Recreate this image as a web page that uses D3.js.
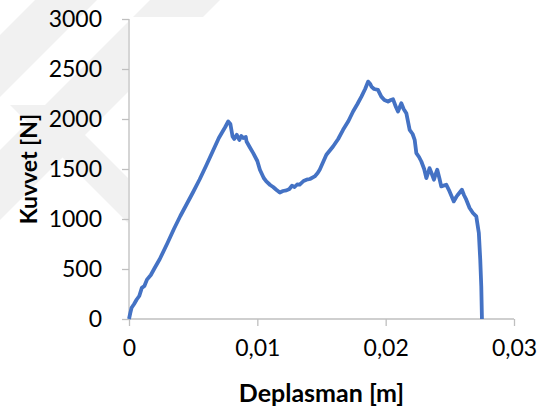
<!DOCTYPE html>
<html>
<head>
<meta charset="utf-8">
<script src="https://cdn.jsdelivr.net/npm/d3@7"></script>
<style>
  body { margin: 0; background: white; }
  svg { display: block; font-family: Lato, "Open Sans", sans-serif; }
</style>
</head>
<body>
<svg id="chart" width="542" height="414"></svg>
<script>
// displacement [m]
const deplasman = [0, 0.0001, 0.0002, 0.0004, 0.0006, 0.0008, 0.001, 0.0012, 0.0014, 0.0017, 0.002, 0.0024,
  0.003, 0.0035, 0.004, 0.0045, 0.005, 0.0055, 0.006, 0.0065, 0.007, 0.0075, 0.00773, 0.0079, 0.00807,
  0.0082, 0.0084, 0.0086, 0.00875, 0.0089, 0.0091, 0.00916, 0.0094, 0.00968, 0.01, 0.0102, 0.0105, 0.0107,
  0.011, 0.01123, 0.0115, 0.01175, 0.012, 0.01227, 0.0125, 0.0127, 0.0129, 0.0131, 0.0133, 0.0136, 0.01383,
  0.0141, 0.01447, 0.0147, 0.01486, 0.01538, 0.0159, 0.0163, 0.01668, 0.0171, 0.01746, 0.0178, 0.01811,
  0.0184, 0.01863, 0.0188, 0.01889, 0.0191, 0.0194, 0.01966, 0.0199, 0.02018, 0.0204, 0.02057, 0.0208,
  0.02096, 0.0211, 0.02122, 0.0214, 0.02161, 0.02187, 0.0221, 0.02226, 0.02239, 0.0226, 0.02278, 0.023,
  0.02317, 0.0233, 0.02342, 0.0236, 0.02376, 0.0239, 0.02402, 0.0242, 0.02433, 0.02472, 0.02498, 0.02531,
  0.0255, 0.02563, 0.02594, 0.0261, 0.02628, 0.02654, 0.0268, 0.02706, 0.02726, 0.02737, 0.02745, 0.0275, 0.0275];
// force [N]
const kuvvet = [0, 60, 112, 150, 195, 230, 311, 330, 394, 440, 510, 600,
  760, 900, 1030, 1150, 1270, 1395, 1530, 1670, 1810, 1920, 1975, 1950, 1825,
  1800, 1842, 1790, 1830, 1810, 1820, 1775, 1720, 1659, 1580, 1493, 1410, 1376,
  1340, 1320, 1290, 1265, 1280, 1286, 1300, 1333, 1320, 1345, 1343, 1380, 1393,
  1400, 1426, 1460, 1493, 1642, 1725, 1800, 1892, 1980, 2075, 2150, 2224,
  2300, 2374, 2350, 2324, 2300, 2291, 2224, 2190, 2174, 2190, 2198, 2120,
  2075, 2120, 2158, 2100, 2058, 1892, 1850, 1792, 1659, 1620, 1575, 1500,
  1409, 1460, 1509, 1450, 1393, 1450, 1493, 1400, 1326, 1343, 1276, 1176,
  1220, 1243, 1293, 1240, 1193, 1110, 1060, 1026, 860, 594, 327, 12, 0];

const xTicks = [0, 0.01, 0.02, 0.03];
const yTicks = [0, 500, 1000, 1500, 2000, 2500, 3000];

const svg = d3.select("#chart");

// faint background watermark
const wm = svg.append("g").attr("fill", "#f1f1f1");
[
  [[35, 0], [97, 0], [0, 97], [0, 35]],
  [[150, 0], [220, 0], [0, 220], [0, 150]],
  [[10, 105], [55, 105], [140, 190], [140, 235]]
].forEach(p => wm.append("polygon").attr("points", p.map(d => d.join(",")).join(" ")));

svg.append("rect")
  .attr("x", 128).attr("y", 17)
  .attr("width", 414).attr("height", 397)
  .attr("fill", "white");

const margin = { top: 19, right: 28, bottom: 95, left: 129 };
const width = 542 - margin.left - margin.right;
const height = 414 - margin.top - margin.bottom;

const chartArea = svg.append("g")
  .attr("transform", `translate(${margin.left},${margin.top})`);

const x = d3.scaleLinear().domain([0, 0.03]).range([0, width]);
const y = d3.scaleLinear().domain([0, 3000]).range([height, 0]);

const fmtX = d => d === 0 ? "0" : String(d).replace(".", ",");

const xAxis = chartArea.append("g")
  .attr("transform", `translate(0,${height})`)
  .call(d3.axisBottom(x).tickValues(xTicks).tickFormat(fmtX).tickSize(7).tickSizeOuter(0).tickPadding(14));

const yAxis = chartArea.append("g")
  .call(d3.axisLeft(y).tickValues(yTicks).tickFormat(d3.format("d")).tickSize(7).tickSizeOuter(0).tickPadding(20));

[xAxis, yAxis].forEach(a => {
  a.selectAll("path, line").attr("stroke", "#bfbfbf").attr("stroke-width", 1.3);
  a.selectAll("text").attr("font-size", 23).attr("fill", "#000").attr("font-family", "Lato, sans-serif");
});
xAxis.select(".domain").attr("d", `M0,0H${width}`);
yAxis.select(".domain").attr("d", `M0,${height}V0`);

const line = d3.line()
  .x((d, i) => x(deplasman[i]))
  .y(d => y(d));

chartArea.append("path")
  .datum(kuvvet)
  .attr("fill", "none")
  .attr("stroke", "#4472C4")
  .attr("stroke-width", 3.8)
  .attr("stroke-linejoin", "round")
  .attr("d", line);

svg.append("text")
  .attr("x", margin.left + width / 2)
  .attr("y", 402)
  .attr("text-anchor", "middle")
  .attr("font-size", 25)
  .attr("font-weight", "bold")
  .text("Deplasman [m]");

svg.append("text")
  .attr("transform", `translate(37,${margin.top + height / 2})rotate(-90)`)
  .attr("text-anchor", "middle")
  .attr("font-size", 23)
  .attr("font-weight", "bold")
  .text("Kuvvet [N]");
</script>
</body>
</html>
